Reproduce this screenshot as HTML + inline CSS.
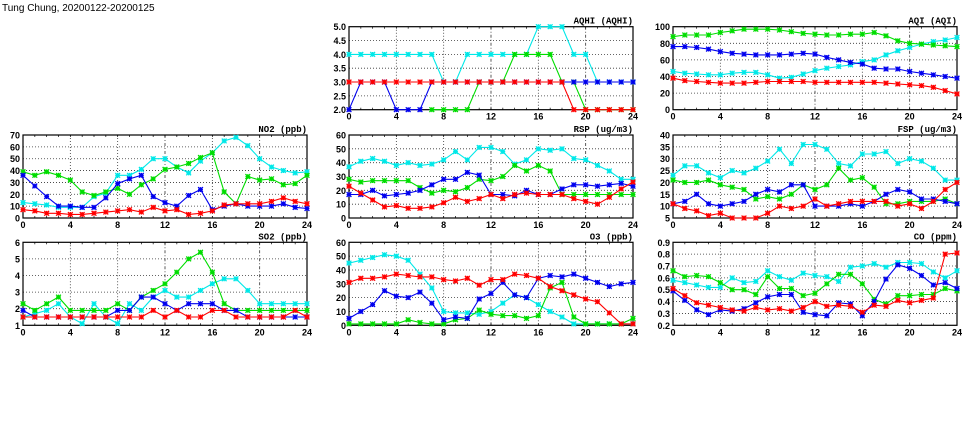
<!DOCTYPE html>
<html><head><meta charset="utf-8"><style>
html,body{margin:0;padding:0;background:#fff;}
svg{display:block;font-family:"Liberation Sans",sans-serif;}
</style></head><body>
<svg id="chart" width="975" height="447" viewBox="0 0 975 447" xmlns="http://www.w3.org/2000/svg">
<text x="2" y="11" font-size="10">Tung Chung, 20200122-20200125</text>
</svg>
<script>
const hours = [0,1,2,3,4,5,6,7,8,9,10,11,12,13,14,15,16,17,18,19,20,21,22,23,24];
const xTicks = [0,4,8,12,16,20,24];
const seriesColors = ['#00e8e8','#00dd00','#0000ee','#ff0000'];
const seriesNames = ['cyan','green','blue','red'];

const aqhiCyan  = [4,4,4,4,4,4,4,4,3,3,4,4,4,4,4,4,5,5,5,4,4,3,3,3,3];
const aqhiGreen = [null,null,null,null,null,null,null,2,2,2,2,3,3,3,4,4,4,4,3,3,2,2,2,2,2];
const aqhiBlue  = [2,3,3,3,2,2,2,3,3,3,3,3,3,3,3,3,3,3,3,3,3,3,3,3,3];
const aqhiRed   = [3,3,3,3,3,3,3,3,3,3,3,3,3,3,3,3,3,3,3,2,2,2,2,2,2];
const aqhiTicks = ['2.0','2.5','3.0','3.5','4.0','4.5','5.0'];

const aqiCyan  = [46,44,43,42,42,44,45,45,42,38,39,43,47,50,52,54,58,60,66,71,75,79,82,84,87];
const aqiGreen = [88,90,90,90,93,95,97,97,97,96,94,92,91,90,90,91,91,93,89,83,80,79,78,77,76];
const aqiBlue  = [76,76,75,73,70,68,67,66,66,66,67,68,67,63,60,57,55,50,49,49,46,44,42,40,38];
const aqiRed   = [38,35,34,33,32,32,32,33,34,34,34,34,33,33,33,33,33,33,32,31,30,29,27,23,19];
const aqiTicks = ['0','20','40','60','80','100'];

const no2Cyan  = [13,12,11,9,9,9,18,21,36,36,41,50,50,43,38,48,55,65,68,61,50,43,40,38,39];
const no2Green = [39,36,39,36,32,22,19,22,25,20,28,33,41,43,46,51,55,22,12,35,32,33,28,29,36];
const no2Blue  = [36,27,18,10,10,9,9,17,29,33,36,18,13,10,19,24,7,10,12,10,10,10,12,9,8];
const no2Red   = [7,6,4,4,3,3,4,5,6,7,5,9,6,7,3,4,6,11,12,12,12,14,17,14,12];
const no2Ticks = ['0','10','20','30','40','50','60','70'];

const rspCyan  = [37,41,43,41,38,40,38,39,42,48,42,51,51,48,39,42,50,49,50,43,42,38,34,28,28];
const rspGreen = [28,26,27,27,27,27,22,18,20,19,22,28,27,30,38,34,38,34,17,17,17,17,17,17,17];
const rspBlue  = [17,17,20,16,17,18,20,24,28,28,33,31,17,17,16,20,17,17,21,24,24,23,24,25,23];
const rspRed   = [23,18,13,8,9,7,7,8,11,15,12,14,17,14,17,18,17,17,17,14,12,10,15,21,26];
const rspTicks = ['0','10','20','30','40','50','60'];

const fspCyan  = [23,27,27,24,22,25,24,26,29,34,28,36,36,34,28,27,32,32,33,28,30,29,26,21,21];
const fspGreen = [21,20,20,21,19,18,17,13,14,13,15,19,17,19,26,21,22,18,11,11,12,12,12,13,11];
const fspBlue  = [11,12,15,11,10,11,12,15,17,16,19,19,10,10,10,11,10,12,15,17,16,13,13,12,11];
const fspRed   = [11,9,8,6,7,5,5,5,7,10,9,10,13,10,11,12,12,12,12,10,11,9,12,17,20];
const fspTicks = ['5','10','15','20','25','30','35','40'];

const so2Cyan  = [1.5,1.7,1.9,2.3,1.5,1.1,2.3,1.5,1.1,2.3,1.9,2.7,3.1,2.7,2.7,3.1,3.5,3.8,3.8,3.1,2.3,2.3,2.3,2.3,2.3];
const so2Green = [2.3,1.9,2.3,2.7,1.9,1.9,1.9,1.9,2.3,1.9,2.7,3.1,3.5,4.2,5.0,5.4,4.2,2.3,1.9,1.9,1.9,1.9,1.9,1.9,1.9];
const so2Blue  = [1.9,1.5,1.5,1.5,1.5,1.5,1.5,1.5,1.9,1.9,2.7,2.7,2.3,1.9,2.3,2.3,2.3,1.9,1.9,1.5,1.5,1.5,1.5,1.5,1.5];
const so2Red   = [1.5,1.5,1.5,1.5,1.5,1.5,1.5,1.5,1.5,1.5,1.5,1.9,1.5,1.9,1.5,1.5,1.9,1.9,1.5,1.5,1.5,1.5,1.5,1.9,1.5];
const so2Ticks = ['1','2','3','4','5','6'];

const o3Cyan  = [45,47,49,51,50,47,37,27,10,9,9,8,10,16,22,20,15,10,6,1,1,1,1,1,1];
const o3Green = [1,1,1,1,1,4,2,1,1,4,5,11,8,7,7,5,7,27,31,6,1,1,1,1,5];
const o3Blue  = [5,10,15,25,21,20,24,16,4,6,5,19,23,31,22,20,34,36,35,37,34,31,28,30,31];
const o3Red   = [31,34,34,35,37,36,35,35,33,32,34,29,33,33,37,36,34,28,25,22,19,17,9,1,1];
const o3Ticks = ['0','10','20','30','40','50','60'];

const coCyan  = [0.58,0.56,0.54,0.52,0.52,0.60,0.56,0.57,0.66,0.61,0.58,0.64,0.62,0.61,0.57,0.69,0.70,0.72,0.69,0.73,0.73,0.72,0.65,0.60,0.66];
const coGreen = [0.66,0.61,0.62,0.61,0.56,0.50,0.50,0.46,0.61,0.51,0.51,0.45,0.47,0.55,0.63,0.63,0.55,0.42,0.38,0.45,0.45,0.46,0.46,0.51,0.49];
const coBlue  = [0.49,0.41,0.33,0.29,0.33,0.32,0.34,0.39,0.44,0.46,0.46,0.31,0.29,0.28,0.39,0.38,0.28,0.40,0.59,0.71,0.68,0.62,0.54,0.56,0.51];
const coRed   = [0.51,0.45,0.39,0.37,0.35,0.33,0.32,0.35,0.33,0.34,0.32,0.35,0.40,0.36,0.37,0.36,0.31,0.37,0.36,0.41,0.39,0.41,0.43,0.80,0.81];
const coTicks = ['0.2','0.3','0.4','0.5','0.6','0.7','0.8','0.9'];

const svg = document.getElementById('chart');
const NS = 'http://www.w3.org/2000/svg';
function mk(tag, attrs, parent){
  const e = document.createElementNS(NS, tag);
  for (const k in attrs) e.setAttribute(k, attrs[k]);
  (parent||svg).appendChild(e);
  return e;
}

const colX = [23, 349, 673];
const rowY = [26.7, 135, 242.3];
const PW = 284, PH = 83;

function panel(key, title, col, row, ticks, series){
  const x0 = colX[col], y0 = rowY[row];
  const g = mk('g', {});
  
  
  const yMin = parseFloat(ticks[0]), yMax = parseFloat(ticks[ticks.length-1]);
  const xs = h => x0 + h / 24 * PW;
  const ys = v => y0 + PH - (v - yMin) / (yMax - yMin) * PH;
  ticks.forEach((t, i) => {
    const y = ys(parseFloat(t));
    if (i > 0 && i < ticks.length-1) {
      const l = mk('line', {x1:x0, x2:x0+PW, y1:y, y2:y, stroke:'#333', 'stroke-width':0.8, 'stroke-dasharray':'1,2'}, g);
      
      
    }
    const tl = mk('text', {x:x0-3, y:y+3.5, 'font-size':9, 'font-weight':'bold', 'text-anchor':'end'}, g);
    tl.textContent = t;
    
    
  });
  xTicks.forEach((t, i) => {
    const x = xs(t);
    if (i > 0 && i < xTicks.length-1) {
      const l = mk('line', {x1:x, x2:x, y1:y0, y2:y0+PH, stroke:'#333', 'stroke-width':0.8, 'stroke-dasharray':(t===12||t===20)?'3,2,1,2':'1,2'}, g);
      
      
    }
    const tl = mk('text', {x:x, y:y0+PH+10, 'font-size':9, 'font-weight':'bold', 'text-anchor':'middle'}, g);
    tl.textContent = t;
    
    
  });
  for (let h = 0; h <= 24; h++) {
    const x = xs(h);
    mk('line', {x1:x, x2:x, y1:y0+PH, y2:y0+PH-2, stroke:'#000', 'stroke-width':0.7}, g);
    mk('line', {x1:x, x2:x, y1:y0, y2:y0+2, stroke:'#000', 'stroke-width':0.7}, g);
  }
  const frame = mk('rect', {x:x0, y:y0, width:PW, height:PH, fill:'none', stroke:'#000', 'stroke-width':1.2}, g);
  
  
  const tt = mk('text', {x:x0+PW, y:y0-3, 'font-size':9, 'font-weight':'bold', 'text-anchor':'end', 'font-family':'Liberation Mono, monospace'}, g);
  tt.textContent = title;
  
  
  series.forEach((vals, si) => {
    const c = seriesColors[si];
    const pts = [];
    vals.forEach((v, h) => { if (v !== null) pts.push(xs(hours[h]).toFixed(1) + ',' + ys(v).toFixed(1)); });
    const pl = mk('polyline', {points:pts.join(' '), fill:'none', stroke:c, 'stroke-width':1.1}, g);
    
    
    vals.forEach((v, h) => {
      if (v === null) return;
      const x = xs(hours[h]), y = ys(v), r = 2.4;
      const m = mk('path', {d:`M${x-r},${y-r}L${x+r},${y+r}M${x-r},${y+r}L${x+r},${y-r}M${x-r},${y}L${x+r},${y}M${x},${y-r}L${x},${y+r}`, stroke:c, 'stroke-width':1.3, fill:'none'}, g);
      
      
    });
  });
}

panel('aqhi', 'AQHI (AQHI)', 1, 0, aqhiTicks, [aqhiCyan, aqhiGreen, aqhiBlue, aqhiRed]);
panel('aqi', 'AQI (AQI)', 2, 0, aqiTicks, [aqiCyan, aqiGreen, aqiBlue, aqiRed]);
panel('no2', 'NO2 (ppb)', 0, 1, no2Ticks, [no2Cyan, no2Green, no2Blue, no2Red]);
panel('rsp', 'RSP (ug/m3)', 1, 1, rspTicks, [rspCyan, rspGreen, rspBlue, rspRed]);
panel('fsp', 'FSP (ug/m3)', 2, 1, fspTicks, [fspCyan, fspGreen, fspBlue, fspRed]);
panel('so2', 'SO2 (ppb)', 0, 2, so2Ticks, [so2Cyan, so2Green, so2Blue, so2Red]);
panel('o3', 'O3 (ppb)', 1, 2, o3Ticks, [o3Cyan, o3Green, o3Blue, o3Red]);
panel('co', 'CO (ppm)', 2, 2, coTicks, [coCyan, coGreen, coBlue, coRed]);
</script>
</body></html>
